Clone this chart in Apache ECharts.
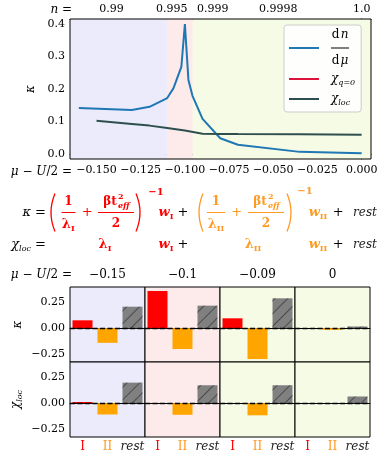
<!DOCTYPE html>
<html>
<head>
<meta charset="utf-8">
<script src="https://cdn.jsdelivr.net/npm/echarts@6/dist/echarts.min.js"></script>
<style>
html,body{margin:0;padding:0;background:#fff}
#chart{width:390px;height:460px}
</style>
</head>
<body>
<div id="chart"></div>
<script>
// ---- top panel data ----
const muDn = [-0.16, -0.13, -0.12, -0.11, -0.1065, -0.102, -0.1, -0.098, -0.0957, -0.09, -0.08, -0.07, -0.035, 0];
const dnDmu = [0.141, 0.135, 0.145, 0.172, 0.202, 0.268, 0.400, 0.228, 0.179, 0.108, 0.048, 0.028, 0.006, 0.002];
const muLoc = [-0.15, -0.13, -0.12, -0.11, -0.1, -0.09, -0.08, -0.07, -0.035, 0];
const chiLoc = [0.102, 0.092, 0.087, 0.080, 0.072, 0.062, 0.0615, 0.061, 0.0605, 0.059];
const chiQ0 = [];
const muTicks = [-0.15, -0.125, -0.1, -0.075, -0.05, -0.025, 0];
const kappaTicks = [0, 0.1, 0.2, 0.3, 0.4];
const nTickMu = [-0.1415, -0.1074, -0.0842, -0.0472, 0];
const nTickLabels = ['0.99', '0.995', '0.999', '0.9998', '1.0'];
const bandEdges = [-0.165, -0.1102, -0.0955, 0.0053];

// ---- bottom panels ----
const colMu = ['−0.15', '−0.1', '−0.09', '0'];
const barCats = ['I', 'II', 'rest'];
const kappaBars = [[0.075, -0.14, 0.205], [0.355, -0.199, 0.215], [0.094, -0.295, 0.285], [0.0, -0.016, 0.016]];
const chiBars = [[0.011, -0.108, 0.196], [0.0, -0.111, 0.171], [0.0, -0.116, 0.171], [0.0, 0.0, 0.064]];
const barTicks = [-0.25, 0, 0.25];

const FONT = '"DejaVu Serif"';
const RED = '#ff0000', ORG = '#ff9a22';
const bandColors = ['#ebebfc', '#fdebec', '#f6fbe6'];
const colBg = ['#ebebfc', '#fdebec', '#f6fbe6', '#f6fbe6'];
const minus = s => s.replace('-', '−');

const chart = echarts.init(document.getElementById('chart'));

const grids = [{left: 70, top: 19, width: 301, height: 140, show: true, z: 5,
  borderColor: '#000', borderWidth: 1, backgroundColor: 'transparent', outerBoundsMode: 'none'}];
const xAxes = [], yAxes = [], series = [];

const tickStyle = {inside: true, length: 4, lineStyle: {color: '#000', width: 1}};
const lblStyle = {color: '#000', fontFamily: FONT, fontSize: 11};

xAxes.push({
  type: 'value', gridIndex: 0, min: bandEdges[0], max: bandEdges[3],
  axisLine: {lineStyle: {color: '#000'}},
  axisTick: Object.assign({customValues: muTicks}, tickStyle),
  axisLabel: Object.assign({customValues: muTicks, margin: 6, formatter: v => minus(v.toFixed(3))}, lblStyle),
  splitLine: {show: false}
});
xAxes.push({
  type: 'value', gridIndex: 0, position: 'top', min: bandEdges[0], max: bandEdges[3],
  axisLine: {lineStyle: {color: '#000'}},
  axisTick: Object.assign({customValues: nTickMu}, tickStyle),
  axisLabel: Object.assign({customValues: nTickMu, margin: 4, formatter: v => {
    let best = 0;
    nTickMu.forEach((m, i) => { if (Math.abs(m - v) < Math.abs(nTickMu[best] - v)) best = i; });
    return nTickLabels[best];
  }}, lblStyle),
  splitLine: {show: false}
});
yAxes.push({
  type: 'value', gridIndex: 0, min: -0.016, max: 0.416,
  axisLine: {lineStyle: {color: '#000'}},
  axisTick: Object.assign({customValues: kappaTicks}, tickStyle),
  axisLabel: Object.assign({customValues: kappaTicks, margin: 5, formatter: v => v.toFixed(1)}, lblStyle),
  splitLine: {show: false},
  name: 'κ', nameLocation: 'middle', nameGap: 27, nameRotate: 90,
  nameTextStyle: {fontFamily: FONT, fontStyle: 'italic', fontSize: 12, color: '#000'}
});

series.push({
  type: 'line', name: 'dn/dμ', xAxisIndex: 0, yAxisIndex: 0,
  data: muDn.map((m, i) => [m, dnDmu[i]]), symbol: 'none',
  lineStyle: {color: '#1f77b4', width: 2}, itemStyle: {color: '#1f77b4'},
  markArea: {silent: true, data: bandColors.map((c, i) => [
    {xAxis: bandEdges[i], itemStyle: {color: c}}, {xAxis: bandEdges[i + 1]}
  ])}
});
series.push({
  type: 'line', name: 'χq=0', xAxisIndex: 0, yAxisIndex: 0, data: chiQ0, symbol: 'none',
  lineStyle: {color: '#dc143c', width: 2}, itemStyle: {color: '#dc143c'}
});
series.push({
  type: 'line', name: 'χloc', xAxisIndex: 0, yAxisIndex: 0,
  data: muLoc.map((m, i) => [m, chiLoc[i]]), symbol: 'none',
  lineStyle: {color: '#2f4f4f', width: 2}, itemStyle: {color: '#2f4f4f'}
});

// bar panels
const hatch = {symbol: 'rect', symbolSize: 1, color: 'rgba(30,30,30,0.55)',
  dashArrayX: [1, 0], dashArrayY: [1, 8], rotation: -Math.PI / 4};
const barItem = [
  {color: RED},
  {color: '#ffa500'},
  {color: '#808080', decal: hatch}
];
const catRich = {
  I: {color: RED, fontFamily: FONT, fontSize: 12},
  II: {color: ORG, fontFamily: FONT, fontSize: 12},
  rest: {color: '#222', fontFamily: FONT, fontSize: 12, fontStyle: 'italic'}
};
[kappaBars, chiBars].forEach((rowData, r) => {
  rowData.forEach((vals, c) => {
    const idx = 1 + r * 4 + c;
    grids.push({left: 70 + 75 * c, top: 287 + 75 * r, width: 75, height: 75, show: true,
      backgroundColor: colBg[c], borderColor: '#000', borderWidth: 1, outerBoundsMode: 'none'});
    xAxes.push({
      type: 'category', gridIndex: idx, data: barCats,
      axisLine: {lineStyle: {color: '#000'}},
      axisTick: Object.assign({alignWithLabel: true, interval: 0}, tickStyle),
      axisLabel: {show: r === 1, interval: 0, margin: 4, formatter: v => '{' + v + '|' + v + '}', rich: catRich},
      splitLine: {show: false}
    });
    const y = {
      type: 'value', gridIndex: idx, min: -0.323, max: 0.393,
      axisLine: {lineStyle: {color: '#000'}},
      axisTick: Object.assign({customValues: barTicks}, tickStyle),
      axisLabel: Object.assign({show: c === 0, customValues: barTicks, margin: 5,
        formatter: v => minus(v.toFixed(2))}, lblStyle),
      splitLine: {show: false}
    };
    if (c === 0) {
      Object.assign(y, {
        name: r === 0 ? 'κ' : '{g|χ}{s|loc}', nameLocation: 'middle', nameGap: 46, nameRotate: 90,
        nameTextStyle: {fontFamily: FONT, fontStyle: 'italic', fontSize: 12, color: '#000',
          rich: {g: {fontFamily: FONT, fontStyle: 'italic', fontSize: 12, lineHeight: 16},
                 s: {fontFamily: FONT, fontStyle: 'italic', fontSize: 8, verticalAlign: 'bottom', lineHeight: 9}}}
      });
    }
    yAxes.push(y);
    series.push({
      type: 'bar', xAxisIndex: idx + 1, yAxisIndex: idx, barWidth: '80%',
      data: vals.map((v, k) => ({value: v, itemStyle: barItem[k]})),
      markLine: {silent: true, symbol: 'none', label: {show: false},
        lineStyle: {color: '#000', type: [5, 2.5], width: 1.3}, data: [{yAxis: 0}]}
    });
  });
});

// formula and labels as text
function tx(x, y, text, font, fill, align, rich) {
  const style = {text: text, font: font + ' ' + FONT, fill: fill || '#000',
    align: align || 'center', verticalAlign: 'middle'};
  if (rich) style.rich = rich;
  return {type: 'text', x: x, y: y, z: 10, style: style};
}
function sym(x, y, main, sub, fill, italic, align) {
  const w = (italic ? 'italic ' : '') + 'bold ';
  return tx(x, y, '{m|' + main + '}{s|' + sub + '}', '12px', fill, align, {
    m: {font: w + '13px ' + FONT, fill: fill, lineHeight: 16},
    s: {font: 'bold 8px ' + FONT, fill: fill, verticalAlign: 'bottom', lineHeight: 9}
  });
}
function paren(x, y, open, col) {
  const dx = open ? 1 : -1;
  return {type: 'bezierCurve', z: 10, shape: {x1: x + 3 * dx, y1: y - 19, x2: x + 3 * dx, y2: y + 19, cpx1: x - 5 * dx, cpy1: y},
    style: {stroke: col, lineWidth: 1.3, fill: null}};
}
function hline(x1, x2, y, col) {
  return {type: 'line', z: 10, shape: {x1: x1, y1: y, x2: x2, y2: y}, style: {stroke: col, lineWidth: 1}};
}
function frac2(cx, y, col) {
  return [
    tx(cx - 6, y - 11, 'βt', 'bold 12px', col),
    tx(cx + 2, y - 16, '2', 'bold 8px', col, 'left'),
    tx(cx + 2, y - 7, 'eff', 'italic bold 8px', col, 'left'),
    hline(cx - 18, cx + 18, y, col),
    tx(cx, y + 11, '2', 'bold 12px', col)
  ];
}
const R1 = 212.5, R2 = 245;
const graphic = [
  tx(72, 10, '{i|n} =', '12px', '#000', 'right', {i: {font: 'italic 12px ' + FONT}}),
  tx(72, 171.5, '{i|μ} − {i|U}/2 =', '12px', '#000', 'right', {i: {font: 'italic 12px ' + FONT}}),
  tx(46, R1, '{i|κ} =', '13px', '#000', 'right', {i: {font: 'italic 13px ' + FONT}}),
  paren(52, R1, true, RED),
  tx(68.3, R1 - 11, '1', 'bold 12px', RED),
  hline(61.5, 75.5, R1, RED),
  sym(68.3, R1 + 12, 'λ', 'I', RED, false),
  tx(87.3, R1, '+', '13px', RED),
  ...frac2(116, R1, RED),
  paren(139, R1, false, RED),
  tx(156, R1 - 20, '−1', 'bold 10px', RED),
  sym(166, R1, 'w', 'I', RED, true),
  tx(183, R1, '+', '13px', '#000'),
  paren(200, R1, true, ORG),
  tx(216, R1 - 11, '1', 'bold 12px', ORG),
  hline(207, 225, R1, ORG),
  sym(216, R1 + 12, 'λ', 'II', ORG, false),
  tx(236.7, R1, '+', '13px', ORG),
  ...frac2(266, R1, ORG),
  paren(290, R1, false, ORG),
  tx(305, R1 - 21, '−1', 'bold 10px', ORG),
  sym(318, R1, 'w', 'II', ORG, true),
  tx(338.3, R1, '+', '13px', '#000'),
  tx(365, R1, 'rest', 'italic 12px', '#222'),
  tx(46, R2, '{g|χ}{s|loc}{e| =}', '13px', '#000', 'right', {
    g: {font: 'italic 13px ' + FONT, lineHeight: 16},
    s: {font: 'italic 8px ' + FONT, verticalAlign: 'bottom', lineHeight: 9},
    e: {font: '13px ' + FONT, lineHeight: 16}}),
  sym(105, R2, 'λ', 'I', RED, false),
  sym(166, R2, 'w', 'I', RED, true),
  tx(183, R2, '+', '13px', '#000'),
  sym(253, R2, 'λ', 'II', ORG, false),
  sym(318, R2, 'w', 'II', ORG, true),
  tx(338.3, R2, '+', '13px', '#000'),
  tx(365, R2, 'rest', 'italic 12px', '#222'),
  tx(72, 275, '{i|μ} − {i|U}/2 =', '12px', '#000', 'right', {i: {font: 'italic 12px ' + FONT}})
];
colMu.forEach((m, c) => graphic.push(tx(70 + 75 * c + 37.5, 275, m, '12px', '#000')));

chart.setOption({
  animation: false,
  backgroundColor: '#fff',
  grid: grids,
  xAxis: xAxes,
  yAxis: yAxes,
  series: series,
  graphic: graphic,
  legend: {
    orient: 'vertical', left: 284, top: 25,
    data: [{name: 'dn/dμ', icon: 'rect'}, {name: 'χq=0', icon: 'rect'}, {name: 'χloc', icon: 'rect'}],
    itemWidth: 30, itemHeight: 2, itemGap: 6, padding: [4, 6, 5, 5],
    backgroundColor: 'rgba(255,255,255,0.85)', borderColor: '#cccccc', borderWidth: 1, borderRadius: 3,
    textStyle: {fontFamily: FONT, fontSize: 12, color: '#000', rich: {
      sp: {width: 7},
      dr: {fontFamily: FONT, fontSize: 12, width: 9, align: 'right', lineHeight: 14},
      di: {fontFamily: FONT, fontSize: 12, fontStyle: 'italic', width: 9, align: 'left', lineHeight: 14},
      bar: {width: 18, height: 1, lineHeight: 4, backgroundColor: '#000'},
      g: {fontFamily: FONT, fontSize: 12, fontStyle: 'italic', lineHeight: 16},
      s: {fontFamily: FONT, fontSize: 8, fontStyle: 'italic', verticalAlign: 'bottom', lineHeight: 9}
    }},
    formatter: name => {
      if (name === 'dn/dμ') return '{sp|}{dr|d}{di|n}\n{sp|}{bar|}\n{sp|}{dr|d}{di|μ}';
      if (name === 'χq=0') return '{sp|}{g|χ}{s|q=0}';
      return '{sp|}{g|χ}{s|loc}';
    }
  }
});
</script>
</body>
</html>
